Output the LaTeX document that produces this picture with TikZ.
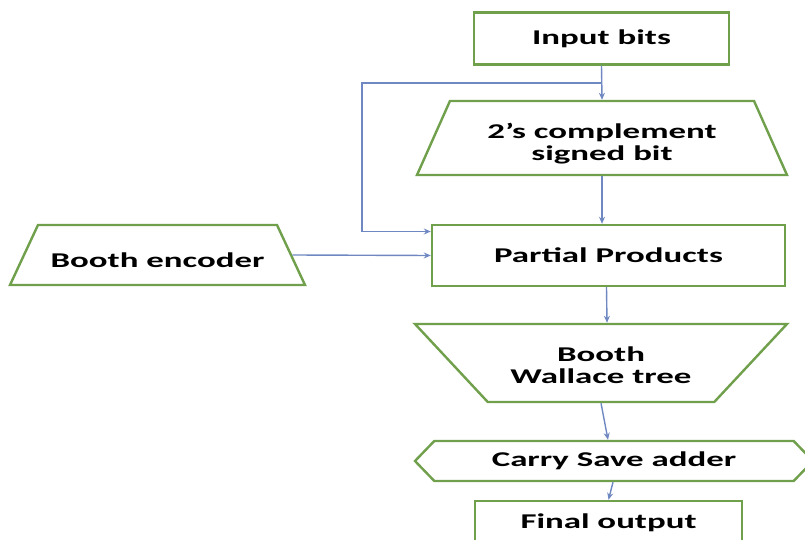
\documentclass[tikz,border=0pt]{standalone}
\usepackage{fontspec}
\setmainfont{Carlito}[FakeStretch=1.66]
\usetikzlibrary{shapes.geometric,shapes.symbols,arrows.meta}
\definecolor{boxgreen}{HTML}{70A04C}
\definecolor{linkblue}{HTML}{6F88C2}

\begin{document}
\begin{tikzpicture}[x=0.5pt,y=-0.5pt]
   \tikzset{box/.style={draw=boxgreen,line width=1.2pt,fill=white,font=\bfseries\fontsize{10.5}{11}\selectfont,align=center,inner sep=0pt},
            rect/.style 2 args={box,rectangle,minimum width=#1*0.5pt,minimum height=#2*0.5pt},
            trap/.style n args={4}{box,trapezium,trapezium stretches body,trapezium left angle=#3,trapezium right angle=#3,minimum width=#1*0.5pt,text height=#2*0.25pt+#4,text depth=#2*0.25pt-#4},
            link/.style={draw=linkblue,line width=0.7pt,-{Stealth[length=3.5pt,width=3pt]}}};

\useasboundingbox (0,0) rectangle (805,540);

\node[rect={255}{52}] (inp) at (601.5,38.5) {Input bits};
\node[trap={370}{74}{66}{6.3pt}] (comp) at (602,138) {\begin{tabular}{@{}c@{}}2’s complement\\signed bit\end{tabular}};
\node[rect={353}{61}] (pp) at (608.5,255.5) {Partial Products};
\node[trap={295}{60}{65}{6.1pt}] (enc) at (157.5,255) {Booth encoder};
\node[trap={372}{78}{47}{5.3pt},shape border rotate=180] (wt) at (601,363) {\begin{tabular}{@{}c@{}}Booth\\Wallace tree\end{tabular}};
\node[box,signal,signal to=west and east,signal pointer angle=92,minimum width=199pt,minimum height=20pt] (csa) at (614,461) {Carry Save adder};
\node[rect={267}{44}] (out) at (608.5,523) {Final output};

%links-----------------------

\coordinate (br) at (602,83);
\coordinate (lp) at (362,83);

\draw[link] (inp.south) -- (comp.north);
\draw[link] (br) -- (lp) |- ([yshift=12pt]pp.west);
\draw[link] (enc.east) -- (pp.west);
\draw[link] (comp.south) -- (comp.south |- pp.north);
\draw[link] ([xshift=-1pt]pp.south) -- ([xshift=3pt]wt.north);
\draw[link] (wt.south) -- ([xshift=-3pt]csa.north);
\draw[link] ([xshift=-0.5pt]csa.south) -- (out.north);

\end{tikzpicture}
\end{document}
